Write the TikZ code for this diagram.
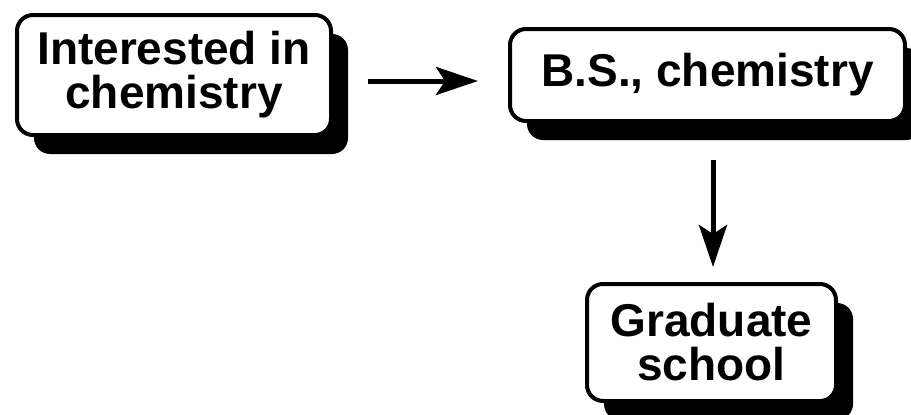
\documentclass[tikz,border=0pt]{standalone}
\usepackage{fontspec}
\setmainfont{Liberation Sans}
\usetikzlibrary{shadows,arrows.meta}
\tikzset{
  box/.style={draw=black, fill=white, line width=4pt, rounded corners=16pt,
    inner sep=0pt, align=center, font=\fontsize{46}{44}\selectfont\bfseries,
    drop shadow={shadow xshift=17pt, shadow yshift=-19pt, opacity=1, fill=black}},
  arr/.style={line width=5pt, -{Stealth[length=42pt, width=28pt, inset=9pt]}}
}
\begin{document}
\begin{tikzpicture}[x=1pt,y=-1pt]
\useasboundingbox (0,0) rectangle (911,415);
\node[box, minimum width=314pt, minimum height=120pt] (b1) at (174,75) {Interested in\\chemistry};
\node[box, minimum width=395pt, minimum height=92pt] (b2) at (707.5,75) {B.S., chemistry};
\node[box, minimum width=249pt, minimum height=117pt] (b3) at (711.5,342.5) {Graduate\\school};
\draw[arr] ([xshift=35pt,yshift=-6pt]b1.east) -- ([xshift=-30pt,yshift=-6pt]b2.west);
\draw[arr] ([xshift=5.5pt,yshift=-37pt]b2.south) -- ([xshift=1.5pt,yshift=15pt]b3.north);
\end{tikzpicture}
\end{document}
